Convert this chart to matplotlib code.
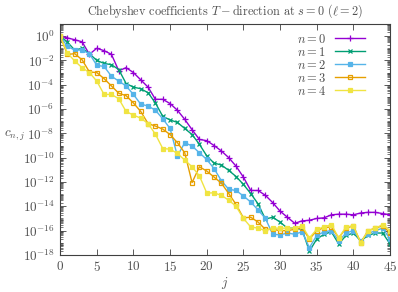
import numpy as np
import matplotlib
matplotlib.use("Agg")
import matplotlib.pyplot as plt
import matplotlib.ticker as mticker

plt.rcParams['font.family'] = 'serif'
plt.rcParams['font.serif'] = ['cmr10', 'DejaVu Serif']
plt.rcParams['mathtext.fontset'] = 'cm'
plt.rcParams['axes.formatter.use_mathtext'] = True

# log10 of the Chebyshev coefficients
j = np.arange(46)
log_c0 = [0, -0.15, -0.3, -0.47, -1.5, -1.0, -1.2, -1.5, -2.85, -2.6,
          -3.0, -3.6, -4.2, -5.2, -5.2, -5.55, -6.1, -6.85, -7.7, -8.5,
          -8.6, -9.0, -9.45, -10.0, -10.7, -11.6, -12.7, -12.7, -13.1, -13.7,
          -14.4, -14.9, -15.4, -15.2, -15.15, -15.0, -14.95, -14.7, -14.65, -14.65,
          -14.7, -14.55, -14.5, -14.5, -14.6, -14.7]
log_c1 = [0, -0.5, -1.15, -1.0, -1.45, -2.0, -2.25, -2.35, -2.75, -3.9,
          -4.2, -4.33, -4.66, -5.5, -6.6, -6.9, -7.1, -7.6, -8.1, -8.9,
          -9.85, -10.45, -10.6, -11.05, -11.55, -12.2, -12.95, -13.8, -15.05, -14.9,
          -15.3, -15.8, -15.8, -15.9, -17.7, -16.7, -16.3, -16.1, -17.1, -16.4,
          -16.2, -16.85, -16.4, -16.2, -16.2, -17.1]
log_c2 = [0, -0.85, -1.15, -1.15, -1.45, -2.4, -2.5, -3.3, -3.7, -4.1,
          -4.8, -5.6, -5.75, -6.1, -6.8, -7.6, -9.86, -8.77, -9.04, -9.6,
          -10.15, -10.9, -11.9, -12.6, -12.7, -13.15, -13.65, -14.3, -15.0, -16.3,
          -16.35, -16.2, -16.3, -16.1, -17.4, -16.4, -16.1, -16.0, -16.85, -16.2,
          -16.0, -16.85, -16.25, -16.0, -15.8, -16.7]
log_c3 = [0, -1.5, -1.45, -1.95, -2.95, -3.0, -3.5, -4.1, -4.7, -4.9,
          -5.5, -6.2, -7.2, -7.4, -7.65, -8.1, -8.77, -9.6, -12.05, -10.75,
          -11.1, -11.6, -12.1, -12.95, -13.85, -14.95, -14.9, -15.3, -15.9, -15.9,
          -16.0, -16.0, -15.9, -15.75, -16.7, -16.0, -15.75, -15.7, -16.6, -15.8,
          -15.6, -17.0, -16.0, -15.8, -15.6, -16.2]
log_c4 = [0, -1.4, -2.05, -2.6, -3.0, -3.7, -4.8, -4.8, -5.15, -6.2,
          -6.5, -6.75, -7.2, -8.07, -9.25, -9.3, -9.65, -10.2, -10.75, -11.5,
          -12.9, -12.9, -13.1, -13.5, -14.0, -15.0, -15.7, -15.8, -16.0, -15.8,
          -15.8, -15.8, -15.8, -15.6, -16.6, -15.9, -15.7, -15.5, -16.6, -15.7,
          -15.6, -17.0, -16.0, -15.8, -15.5, -16.0]

series = [log_c0, log_c1, log_c2, log_c3, log_c4]
labels = ['$n=0$', '$n=1$', '$n=2$', '$n=3$', '$n=4$']
colors = ['#9400d3', '#009e73', '#56b4e9', '#e69f00', '#f0e442']
markers = ['+', 'x', 's', 's', 's']
msizes = [4.0, 3.4, 2.8, 3.2, 2.8]
filled = [True, True, True, False, True]

txt = '#505050'
W, H = 398, 292

fig = plt.figure(figsize=(W / 100, H / 100), dpi=100)
ax = fig.add_axes([0.151, 0.127, 0.829, 0.791])

for vals, lab, col, mk, ms, fl in zip(series, labels, colors, markers, msizes, filled):
    ax.plot(j, 10.0 ** np.array(vals), color=col, lw=1.0, marker=mk,
            ms=ms, mew=0.9, mfc=col if fl else 'none', mec=col, label=lab)

ax.set_yscale('log')
ax.set_xlim(0, 45)
ax.set_ylim(1e-18, 1e1)
ax.xaxis.set_major_locator(mticker.MultipleLocator(5))
ax.yaxis.set_major_locator(mticker.FixedLocator([10.0 ** k for k in range(-18, 1, 2)]))
ax.yaxis.set_major_formatter(mticker.FuncFormatter(lambda v, p: r'$10^{%d}$' % round(np.log10(v))))
ax.yaxis.set_minor_locator(mticker.LogLocator(base=10, subs=np.arange(1, 10), numticks=40))
ax.yaxis.set_minor_formatter(mticker.NullFormatter())

ax.tick_params(which='both', direction='in', top=True, right=True, colors='#404040',
               labelcolor=txt, labelsize=9.5)
ax.tick_params(which='major', length=4, width=0.6, pad=4)
ax.tick_params(which='minor', length=2, width=0.5)
for s in ax.spines.values():
    s.set_color('#404040')
    s.set_linewidth(0.8)

ax.set_title(r'Chebyshev coefficients $T-$direction at $s=0$ ($\ell=2$)',
             fontsize=8.8, color=txt, pad=7)
fig.text(225 / W, 1 - 283 / H, '$j$', fontsize=9.5, color=txt, ha='center', va='center')
fig.text(15 / W, 1 - 136 / H, '$c_{n,j}$', fontsize=9.5, color=txt, ha='center', va='center')

leg = ax.legend(loc='upper right', markerfirst=False, frameon=False, fontsize=9,
                handlelength=2.4, labelspacing=0.0, borderaxespad=0.3,
                handletextpad=0.7, bbox_to_anchor=(0.95, 1.0))
for t in leg.get_texts():
    t.set_color(txt)

fig.savefig('out.png', dpi=100)
